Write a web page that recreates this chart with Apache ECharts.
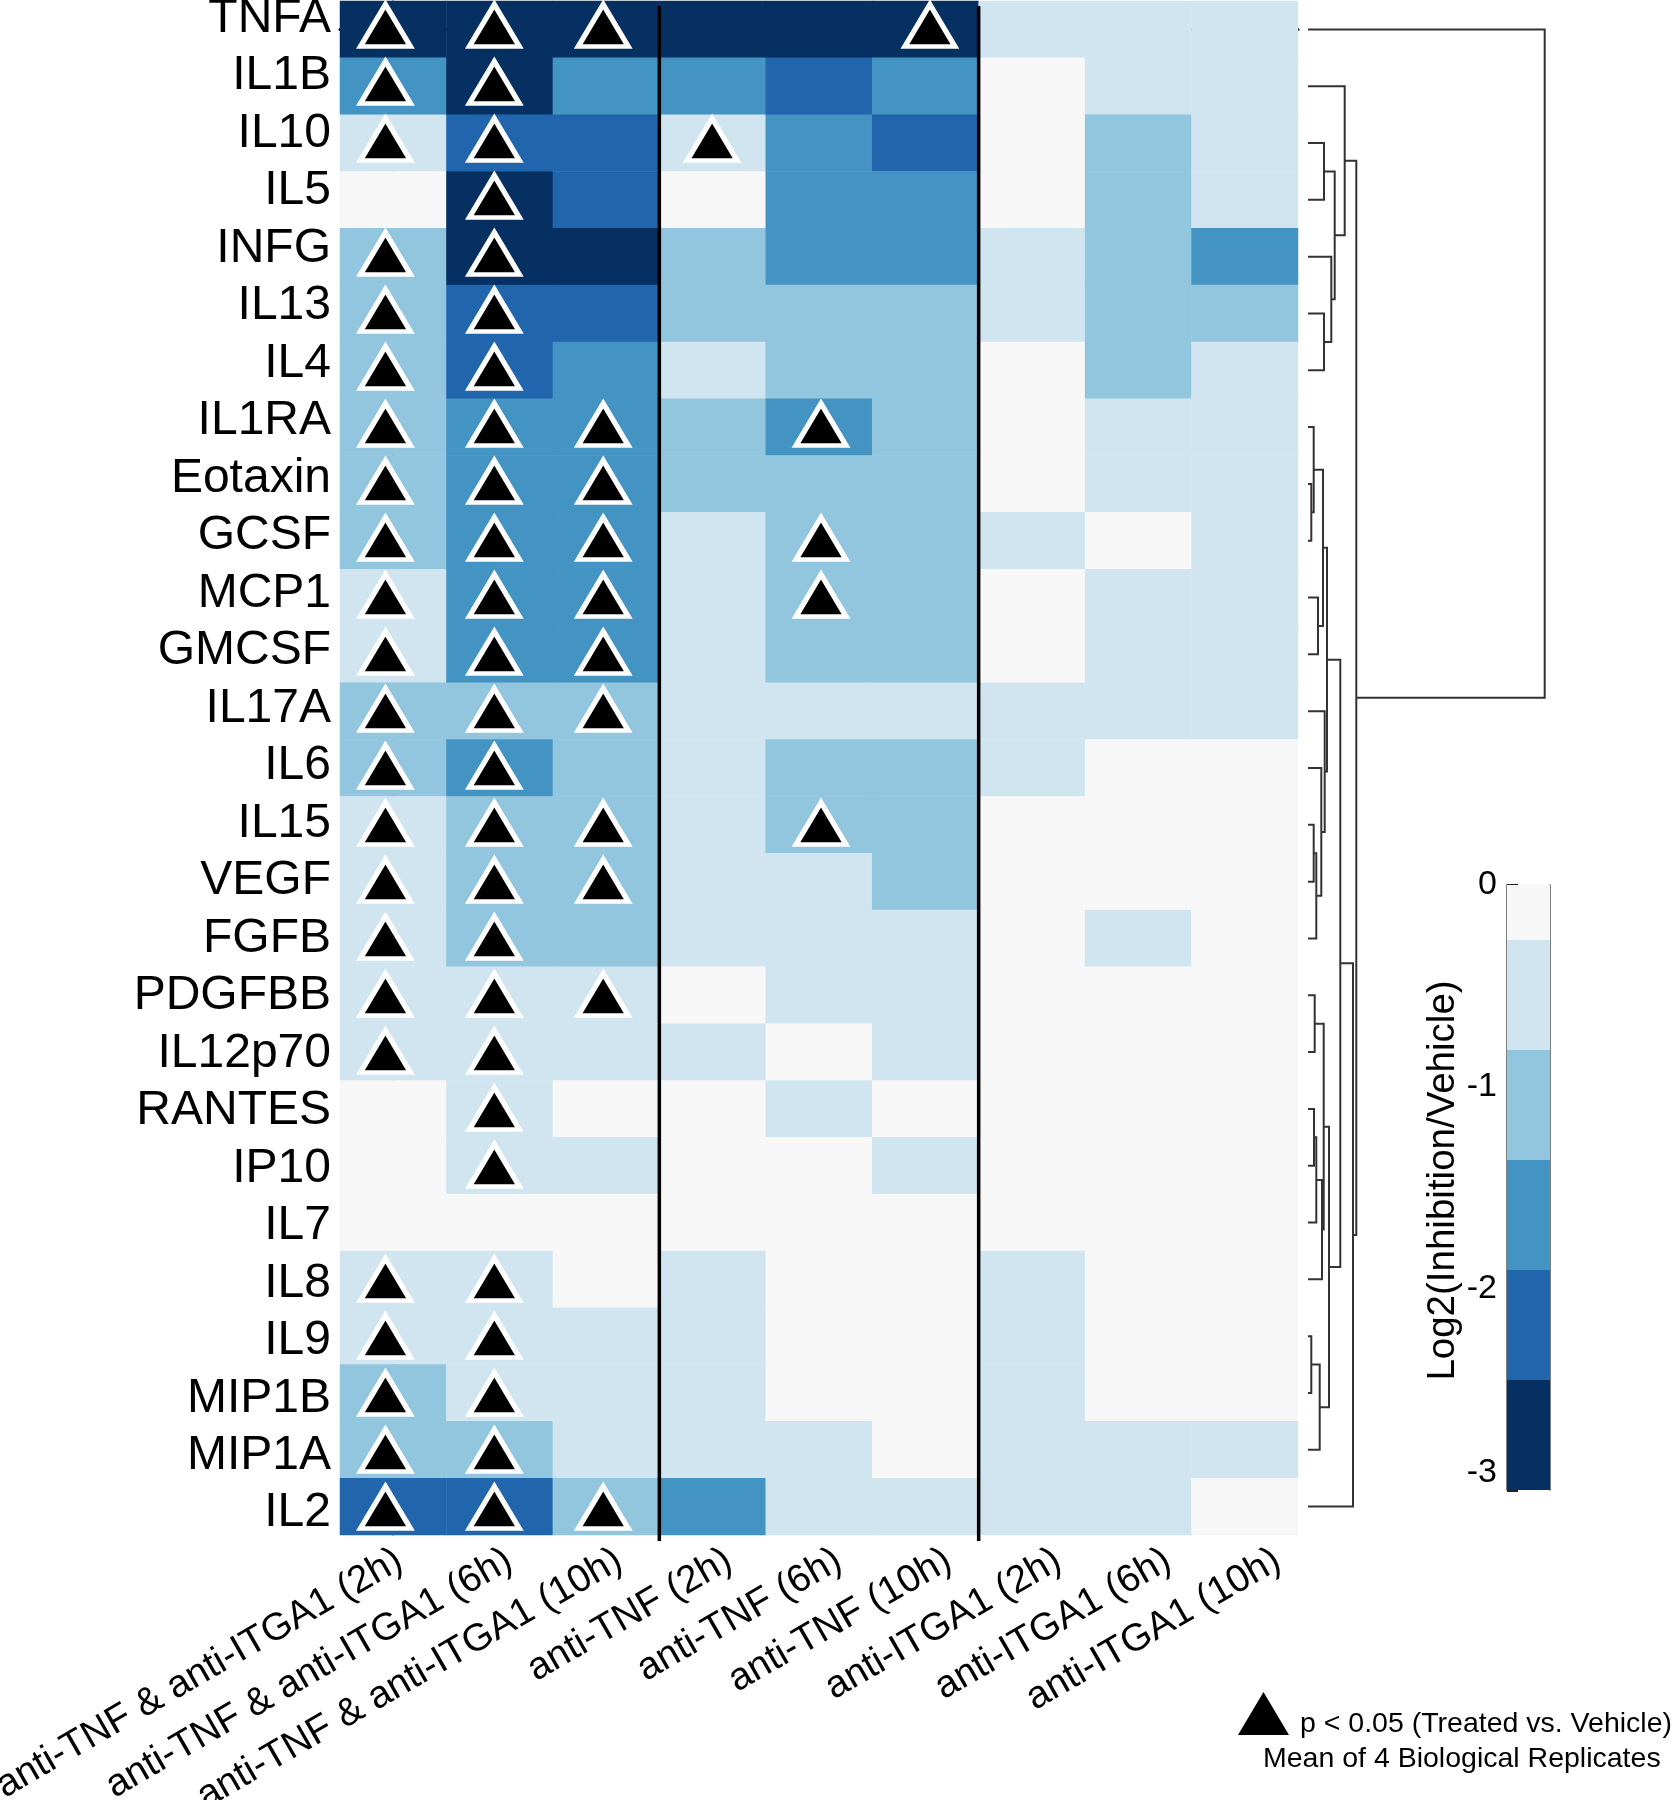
<!DOCTYPE html>
<html><head><meta charset="utf-8">
<script src="https://cdn.jsdelivr.net/npm/echarts@6/dist/echarts.min.js"></script>
<style>html,body{margin:0;padding:0;background:#fff}#c{width:1677px;height:1800px}</style>
</head><body><div id="c"></div>
<script>
// ---------- data ----------
const rows = ['TNFA','IL1B','IL10','IL5','INFG','IL13','IL4','IL1RA','Eotaxin','GCSF','MCP1','GMCSF','IL17A','IL6','IL15','VEGF','FGFB','PDGFBB','IL12p70','RANTES','IP10','IL7','IL8','IL9','MIP1B','MIP1A','IL2'];
const conditions = ['anti-TNF & anti-ITGA1 (2h)','anti-TNF & anti-ITGA1 (6h)','anti-TNF & anti-ITGA1 (10h)','anti-TNF (2h)','anti-TNF (6h)','anti-TNF (10h)','anti-ITGA1 (2h)','anti-ITGA1 (6h)','anti-ITGA1 (10h)'];

// Log2(Inhibition/Vehicle), one array per condition, in row order
const combo2h  = [-2.75,-1.65,-0.55,-0.1,-1.1,-1.1,-1.1,-1.1,-1.1,-1.1,-0.55,-0.55,-1.1,-1.1,-0.55,-0.55,-0.55,-0.55,-0.55,-0.1,-0.1,-0.1,-0.55,-0.55,-1.1,-1.1,-2.2];
const combo6h  = [-2.75,-2.75,-2.2,-2.75,-2.75,-2.2,-2.2,-1.65,-1.65,-1.65,-1.65,-1.65,-1.1,-1.65,-1.1,-1.1,-1.1,-0.55,-0.55,-0.55,-0.55,-0.1,-0.55,-0.55,-0.55,-1.1,-2.2];
const combo10h = [-2.75,-1.65,-2.2,-2.2,-2.75,-2.2,-1.65,-1.65,-1.65,-1.65,-1.65,-1.65,-1.1,-1.1,-1.1,-1.1,-1.1,-0.55,-0.55,-0.1,-0.55,-0.1,-0.1,-0.55,-0.55,-0.55,-1.1];
const tnf2h    = [-2.75,-1.65,-0.55,-0.1,-1.1,-1.1,-0.55,-1.1,-1.1,-0.55,-0.55,-0.55,-0.55,-0.55,-0.55,-0.55,-0.55,-0.1,-0.55,-0.1,-0.1,-0.1,-0.55,-0.55,-0.55,-0.55,-1.65];
const tnf6h    = [-2.75,-2.2,-1.65,-1.65,-1.65,-1.1,-1.1,-1.65,-1.1,-1.1,-1.1,-1.1,-0.55,-1.1,-1.1,-0.55,-0.55,-0.55,-0.1,-0.55,-0.1,-0.1,-0.1,-0.1,-0.1,-0.55,-0.55];
const tnf10h   = [-2.75,-1.65,-2.2,-1.65,-1.65,-1.1,-1.1,-1.1,-1.1,-1.1,-1.1,-1.1,-0.55,-1.1,-1.1,-1.1,-0.55,-0.55,-0.55,-0.1,-0.55,-0.1,-0.1,-0.1,-0.1,-0.1,-0.55];
const itga2h   = [-0.55,-0.1,-0.1,-0.1,-0.55,-0.55,-0.1,-0.1,-0.1,-0.55,-0.1,-0.1,-0.55,-0.55,-0.1,-0.1,-0.1,-0.1,-0.1,-0.1,-0.1,-0.1,-0.55,-0.55,-0.55,-0.55,-0.55];
const itga6h   = [-0.55,-0.55,-1.1,-1.1,-1.1,-1.1,-1.1,-0.55,-0.55,-0.1,-0.55,-0.55,-0.55,-0.1,-0.1,-0.1,-0.55,-0.1,-0.1,-0.1,-0.1,-0.1,-0.1,-0.1,-0.1,-0.55,-0.55];
const itga10h  = [-0.55,-0.55,-0.55,-0.55,-1.65,-1.1,-0.55,-0.55,-0.55,-0.55,-0.55,-0.55,-0.55,-0.1,-0.1,-0.1,-0.1,-0.1,-0.1,-0.1,-0.1,-0.1,-0.1,-0.1,-0.1,-0.55,-0.1];
const columns = [combo2h, combo6h, combo10h, tnf2h, tnf6h, tnf10h, itga2h, itga6h, itga10h];

// p < 0.05 (treated vs vehicle), rows per condition
const sigCombo2h  = ['TNFA','IL1B','IL10','INFG','IL13','IL4','IL1RA','Eotaxin','GCSF','MCP1','GMCSF','IL17A','IL6','IL15','VEGF','FGFB','PDGFBB','IL12p70','IL8','IL9','MIP1B','MIP1A','IL2'];
const sigCombo6h  = ['TNFA','IL1B','IL10','IL5','INFG','IL13','IL4','IL1RA','Eotaxin','GCSF','MCP1','GMCSF','IL17A','IL6','IL15','VEGF','FGFB','PDGFBB','IL12p70','RANTES','IP10','IL8','IL9','MIP1B','MIP1A','IL2'];
const sigCombo10h = ['TNFA','IL1RA','Eotaxin','GCSF','MCP1','GMCSF','IL17A','IL15','VEGF','PDGFBB','IL2'];
const sigTnf2h    = ['IL10'];
const sigTnf6h    = ['IL1RA','GCSF','MCP1','IL15'];
const sigTnf10h   = ['TNFA'];
const sigItga2h = [], sigItga6h = [], sigItga10h = [];
const sigLists = [sigCombo2h, sigCombo6h, sigCombo10h, sigTnf2h, sigTnf6h, sigTnf10h, sigItga2h, sigItga6h, sigItga10h];

// row dendrogram: [child A, child B, linkage height]; numbers refer to earlier merges
const dendroLinks = [
  ['Eotaxin','GCSF',3.3], ['IL1RA',0,5.7], ['MCP1','GMCSF',10], [1,2,15],
  ['IL15','VEGF',5.7], [4,'FGFB',8.3], ['IL6',5,13.3], ['IL17A',6,16.7], [3,7,19],
  ['PDGFBB','IL12p70',6.7], ['RANTES','IP10',6], [10,'IL7',8.3], [11,'IL8',14], [9,12,15.7],
  ['IL9','MIP1B',3.3], [14,'MIP1A',11.7], [13,15,21], [8,16,32.3], [17,'IL2',45],
  ['IL10','IL5',16], ['IL13','IL4',16], ['INFG',20,23.3], [19,21,26.7], ['IL1B',22,36.7],
  [23,18,48.3], ['TNFA',24,236.7]
];

// colour scale (RdBu, 11 classes over [-3,3]; negative half shown)
const bandEdges = [-3, -2.455, -1.909, -1.364, -0.818, -0.273, 0.273];
const bandColors = ['#053061','#2166ac','#4393c3','#92c5de','#d1e5f0','#f7f7f7'];
const colorbarTicks = [0, -1, -2, -3];

const sigName = 'p < 0.05 (Treated vs. Vehicle)';
const noteText = 'Mean of 4 Biological Replicates';
const cbarName = 'Log2(Inhibition/Vehicle)';

// ---------- build series data ----------
const heatData = [];
columns.forEach((col, ci) => col.forEach((v, ri) => heatData.push([ci, ri, v])));
const sigData = [];
sigLists.forEach((list, ci) => list.forEach(name => sigData.push([ci, rows.indexOf(name)])));

const nodePos = [], nodeH = [];
function pos(n) { return typeof n === 'number' ? nodePos[n] : rows.indexOf(n); }
function ht(n) { return typeof n === 'number' ? nodeH[n] : 0; }
const dendroData = dendroLinks.map(([a, b, h], k) => {
  const ya = pos(a), yb = pos(b);
  nodePos[k] = (ya + yb) / 2; nodeH[k] = h;
  return [h, ya, yb, ht(a), ht(b)];
});
const cbarData = bandColors.map((c, k) => [bandEdges[k], bandEdges[k + 1]]);
const pieces = bandColors.map((c, k) => {
  const p = { color: c };
  if (k > 0) p.gte = bandEdges[k];
  if (k < bandColors.length - 1) p.lt = bandEdges[k + 1];
  return p;
});

// ---------- chart ----------
const FONT = '"Liberation Sans", Arial, Helvetica, sans-serif';
const chart = echarts.init(document.getElementById('c'), null, { renderer: 'canvas' });
const noGrid = { containLabel: false, outerBoundsMode: 'none' };
const hiddenCat = (gi, data, inv) => ({ gridIndex: gi, type: 'category', data: data, inverse: !!inv,
  axisLine: { show: false }, axisTick: { show: false }, axisLabel: { show: false }, splitLine: { show: false } });
chart.setOption({
  animation: false,
  backgroundColor: '#fff',
  textStyle: { fontFamily: FONT },
  grid: [
    Object.assign({ left: 340, top: 1, width: 958, height: 1534 }, noGrid),     // 0 heatmap
    Object.assign({ left: 340, top: -10, width: 958, height: 1552 }, noGrid),   // 1 row labels
    Object.assign({ left: 1308, top: 1, width: 237, height: 1534 }, noGrid),    // 2 dendrogram
    Object.assign({ left: 1507, top: 885, width: 43, height: 605 }, noGrid),    // 3 colour bar
    Object.assign({ left: 335, top: 1, width: 988, height: 1534 }, noGrid),     // 4 column labels
    Object.assign({ left: 331, top: -3, width: 980, height: 1539 }, noGrid)     // 5 markers
  ],
  xAxis: [
    { gridIndex: 0, type: 'category', data: conditions, axisLine: { show: true, lineStyle: { color: '#000', width: 3 } },
      axisTick: { show: false }, axisLabel: { show: false }, splitLine: { show: false } },
    { gridIndex: 0, type: 'value', min: -0.5, max: 8.5, show: false },
    { gridIndex: 1, type: 'value', show: false, min: 0, max: 1 },
    { gridIndex: 2, type: 'value', show: false, min: 0, max: 237 },
    { gridIndex: 3, type: 'value', show: false, min: 0, max: 1 },
    { gridIndex: 4, type: 'category', data: conditions,
      axisLine: { show: false }, axisTick: { show: false }, splitLine: { show: false },
      axisLabel: { show: true, interval: 0, rotate: 30, align: 'right', verticalAlign: 'top', margin: 6, hideOverlap: false,
        fontSize: 38.5, color: '#000', fontFamily: FONT } },
    hiddenCat(5, conditions, false)
  ],
  yAxis: [
    { gridIndex: 0, type: 'category', data: rows, inverse: true,
      axisLine: { show: true, lineStyle: { color: '#555', width: 1.5 } }, axisTick: { show: false }, axisLabel: { show: false }, splitLine: { show: false } },
    { gridIndex: 0, type: 'value', min: -0.5, max: 26.5, inverse: true, show: false },
    { gridIndex: 1, type: 'category', data: rows, inverse: true,
      axisLine: { show: false }, axisTick: { show: false }, splitLine: { show: false },
      axisLabel: { show: true, interval: 0, hideOverlap: false, fontSize: 48, color: '#000', margin: 9, fontFamily: FONT } },
    { gridIndex: 2, type: 'value', min: -0.5, max: 26.5, inverse: true, show: false },
    { gridIndex: 3, type: 'value', min: -3, max: 0, interval: 1, position: 'left',
      axisLine: { show: true, lineStyle: { color: '#555', width: 1.5 } },
      axisTick: { show: true, inside: true, length: 11, lineStyle: { color: '#222', width: 3 } },
      splitLine: { show: false },
      axisLabel: { show: true, fontSize: 34, color: '#000', margin: 10, fontFamily: FONT, verticalAlignMinLabel: 'bottom',
        formatter: v => colorbarTicks.indexOf(Math.round(v)) >= 0 && Math.abs(v - Math.round(v)) < 1e-6 ? String(Math.round(v)) : '' },
      name: cbarName, nameLocation: 'middle', nameRotate: 90, nameGap: 39,
      nameTextStyle: { fontSize: 38.5, color: '#000', fontFamily: FONT, padding: [0, 0, 0, 14] } },
    { gridIndex: 3, type: 'value', min: -3, max: 0, position: 'right',
      axisLine: { show: true, lineStyle: { color: '#555', width: 1.5 } }, axisTick: { show: false }, axisLabel: { show: false }, splitLine: { show: false } },
    hiddenCat(4, rows, true),
    hiddenCat(5, rows, true)
  ],
  visualMap: { type: 'piecewise', show: false, seriesIndex: 0, dimension: 2, pieces: pieces },
  legend: {
    data: [{ name: sigName, icon: 'triangle' }], left: 1238, top: 1692, padding: 0,
    itemWidth: 51, itemHeight: 43, itemStyle: { color: '#000', borderWidth: 0 },
    formatter: '{t|{name}}',
    textStyle: { fontSize: 28.5, color: '#000', fontFamily: FONT,
      rich: { t: { fontSize: 28.5, color: '#000', fontFamily: FONT, padding: [22, 0, 0, 6] } } },
    selectedMode: false
  },
  title: { text: noteText, left: 1263, top: 1745, padding: 0,
    textStyle: { fontSize: 28.5, fontWeight: 'normal', color: '#000', fontFamily: FONT } },
  series: [
    { type: 'heatmap', xAxisIndex: 0, yAxisIndex: 0, data: heatData, itemStyle: { borderWidth: 0 },
      emphasis: { disabled: true }, label: { show: false } },
    { type: 'scatter', name: sigName, xAxisIndex: 6, yAxisIndex: 7, data: sigData, symbol: 'triangle',
      symbolSize: [50, 42], z: 5,
      itemStyle: { color: '#000', borderColor: '#fff', borderWidth: 5, opacity: 1 }, emphasis: { disabled: true } },
    { type: 'custom', xAxisIndex: 1, yAxisIndex: 1, data: [[2.5], [5.5]], z: 6, silent: true,
      renderItem: (params, api) => {
        const t = api.coord([api.value(0), -0.5]);
        const b = api.coord([api.value(0), 26.5]);
        return { type: 'line', shape: { x1: t[0], y1: t[1] + 5, x2: b[0], y2: b[1] + 6 }, style: { stroke: '#000', lineWidth: 3.5 } };
      } },
    { type: 'custom', xAxisIndex: 3, yAxisIndex: 3, data: dendroData, silent: true,
      renderItem: (params, api) => {
        const h = api.value(0), ya = api.value(1), yb = api.value(2), ha = api.value(3), hb = api.value(4);
        const pts = [api.coord([ha, ya]), api.coord([h, ya]), api.coord([h, yb]), api.coord([hb, yb])];
        return { type: 'polyline', shape: { points: pts }, style: { stroke: '#333', lineWidth: 2, fill: null } };
      } },
    { type: 'custom', xAxisIndex: 4, yAxisIndex: 4, data: cbarData, silent: true,
      renderItem: (params, api) => {
        const cs = params.coordSys;
        const p1 = api.coord([0, api.value(1)]), p2 = api.coord([1, api.value(0)]);
        const y1 = Math.max(p1[1], cs.y), y2 = Math.min(p2[1], cs.y + cs.height);
        return { type: 'rect', shape: { x: p1[0], y: y1, width: p2[0] - p1[0], height: y2 - y1 },
          style: { fill: bandColors[params.dataIndex] } };
      } }
  ]
});
</script>
</body></html>
